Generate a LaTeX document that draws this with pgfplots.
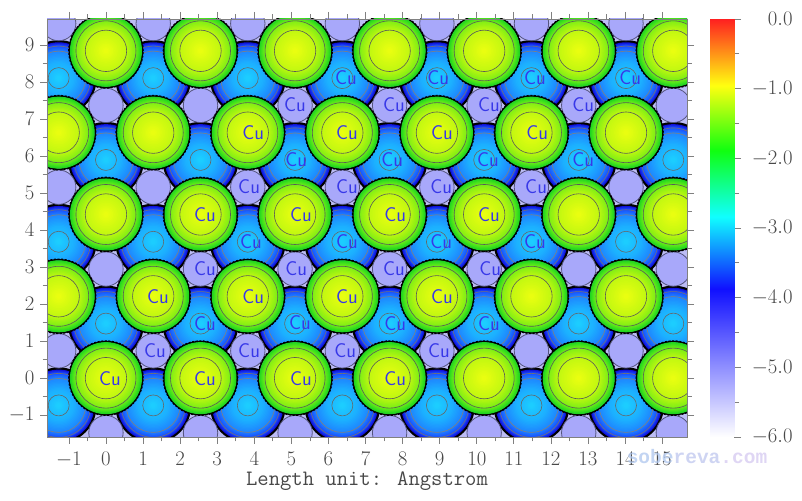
\documentclass[border=0pt]{standalone}
\usepackage{fontspec}
\usepackage{pgfplots}
\usepackage{pgfplotstable}
\pgfplotsset{compat=1.18}
\newfontfamily\wmfont{Liberation Mono}[Scale=1]

\definecolor{lav}{HTML}{BCBCF6}
\definecolor{pur}{HTML}{A8A8FA}
\definecolor{axgray}{HTML}{808080}
\definecolor{txtgray}{HTML}{484848}
\definecolor{cublue}{HTML}{3838E8}
\definecolor{b0}{HTML}{1010D8}
\definecolor{b1}{HTML}{1848FF}
\definecolor{b2}{HTML}{1E88FF}
\definecolor{b3}{HTML}{1CB0FF}
\definecolor{b4}{HTML}{1CD0FF}
\definecolor{g0}{HTML}{20D420}
\definecolor{g1}{HTML}{48E41C}
\definecolor{g2}{HTML}{88F014}
\definecolor{g3}{HTML}{C4F810}
\definecolor{g4}{HTML}{ECFF10}

% filled disc without outline
\pgfdeclareplotmark{disc}{\pgfpathcircle{\pgfpointorigin}{\pgfplotmarksize}\pgfusepathqfill}

% top layer atoms, positions in angstrom
\pgfplotstableread{
x y
-1.275 -2.21
1.275 -2.21
3.825 -2.21
6.375 -2.21
8.925 -2.21
11.475 -2.21
14.025 -2.21
16.575 -2.21
-2.55 0
0 0
2.55 0
5.1 0
7.65 0
10.2 0
12.75 0
15.3 0
17.85 0
-1.275 2.21
1.275 2.21
3.825 2.21
6.375 2.21
8.925 2.21
11.475 2.21
14.025 2.21
16.575 2.21
-2.55 4.42
0 4.42
2.55 4.42
5.1 4.42
7.65 4.42
10.2 4.42
12.75 4.42
15.3 4.42
17.85 4.42
-1.275 6.63
1.275 6.63
3.825 6.63
6.375 6.63
8.925 6.63
11.475 6.63
14.025 6.63
16.575 6.63
-2.55 8.84
0 8.84
2.55 8.84
5.1 8.84
7.65 8.84
10.2 8.84
12.75 8.84
15.3 8.84
17.85 8.84
}\bigatoms

% second layer
\pgfplotstableread{
x y
-1.275 -0.737
1.275 -0.737
3.825 -0.737
6.375 -0.737
8.925 -0.737
11.475 -0.737
14.025 -0.737
16.575 -0.737
-2.55 1.473
0 1.473
2.55 1.473
5.1 1.473
7.65 1.473
10.2 1.473
12.75 1.473
15.3 1.473
17.85 1.473
-1.275 3.683
1.275 3.683
3.825 3.683
6.375 3.683
8.925 3.683
11.475 3.683
14.025 3.683
16.575 3.683
-2.55 5.893
0 5.893
2.55 5.893
5.1 5.893
7.65 5.893
10.2 5.893
12.75 5.893
15.3 5.893
17.85 5.893
-1.275 8.103
1.275 8.103
3.825 8.103
6.375 8.103
8.925 8.103
11.475 8.103
14.025 8.103
16.575 8.103
-2.55 10.313
0 10.313
2.55 10.313
5.1 10.313
7.65 10.313
10.2 10.313
12.75 10.313
15.3 10.313
17.85 10.313
}\midatoms

% third layer
\pgfplotstableread{
x y
-2.55 -1.473
0 -1.473
2.55 -1.473
5.1 -1.473
7.65 -1.473
10.2 -1.473
12.75 -1.473
15.3 -1.473
-1.275 0.737
1.275 0.737
3.825 0.737
6.375 0.737
8.925 0.737
11.475 0.737
14.025 0.737
16.575 0.737
-2.55 2.947
0 2.947
2.55 2.947
5.1 2.947
7.65 2.947
10.2 2.947
12.75 2.947
15.3 2.947
-1.275 5.157
1.275 5.157
3.825 5.157
6.375 5.157
8.925 5.157
11.475 5.157
14.025 5.157
16.575 5.157
-2.55 7.367
0 7.367
2.55 7.367
5.1 7.367
7.65 7.367
10.2 7.367
12.75 7.367
15.3 7.367
-1.275 9.577
1.275 9.577
3.825 9.577
6.375 9.577
8.925 9.577
11.475 9.577
14.025 9.577
16.575 9.577
}\lowatoms

% atom labels
\pgfplotstableread{
x y
0.11 0
2.67 0
5.26 0
7.80 0
1.40 2.20
3.97 2.20
6.50 2.20
9.06 2.20
2.67 4.42
5.26 4.42
7.80 4.42
10.33 4.42
3.97 6.63
6.50 6.63
9.06 6.63
11.63 6.63
2.67 1.47
5.23 1.50
7.80 1.47
10.33 1.47
3.91 3.69
6.50 3.69
9.04 3.69
11.57 3.69
5.13 5.90
7.72 5.90
10.30 5.90
12.87 5.90
6.47 8.11
8.96 8.11
11.57 8.11
14.14 8.11
1.32 0.75
3.86 0.75
6.45 0.75
8.98 0.75
2.67 2.96
5.13 2.96
7.77 2.96
10.36 2.96
3.86 5.17
6.50 5.17
9.04 5.17
11.60 5.17
5.10 7.38
7.77 7.38
10.33 7.38
12.87 7.38
}\culabels

% stack of discs from radius #2 down to #3, colour #4 to #5
\newcommand{\ramp}[6]{%
  \foreach \i in {1,...,#6}{%
    \pgfmathsetmacro\rr{#2+(#3-(#2))*(\i-1)/#6}%
    \pgfmathsetmacro\pp{100*(\i-1)/#6}%
    \edef\tmp{\noexpand\addplot[only marks,mark=disc,mark size=\rr,
      mark options={fill=#5!\pp!#4}] table {\noexpand#1};}%
    \tmp
  }}
\newcommand{\ring}[4]{%
  \addplot[only marks,mark=o,mark size=#2,
    mark options={draw=#3,fill=none,line width=#4}] table {#1};}

\begin{document}
\begin{tikzpicture}[x=1pt,y=1pt]
\path[use as bounding box] (0,0) rectangle (802,500);
\begin{axis}[
    at={(47pt,63pt)},anchor=south west,
    scale only axis,width=640pt,height=418pt,
    xmin=-1.59,xmax=15.67,ymin=-1.59,ymax=9.70,
    xtick={-1,0,...,15},ytick={-1,0,...,9},
    minor tick num=1,
    tick align=outside,
    major tick length=7pt,minor tick length=4.5pt,
    tick style={axgray,line width=.7pt},
    axis line style={axgray,line width=.8pt},
    axis on top,
    clip marker paths=true,
    axis background/.style={fill=lav},
    tick label style={font=\fontsize{20}{20}\selectfont,text=txtgray},
    xticklabel shift=5pt,
    yticklabel shift=2pt,
    xlabel={Length unit: Angstrom},
    xlabel style={font=\ttfamily\fontsize{22}{22}\selectfont,text=txtgray,yshift=2.5pt},
]
% second layer
\ramp{\midatoms}{38}{35.8}{black}{black}{1}
\ramp{\midatoms}{35.8}{33}{b0}{b1}{3}
\ramp{\midatoms}{33}{27}{b1}{b2}{5}
\ramp{\midatoms}{27}{16}{b2}{b3}{8}
\ramp{\midatoms}{16}{1}{b3}{b4}{10}
\ring{\midatoms}{32}{black!55}{.6pt}
\ring{\midatoms}{27}{black!50}{.6pt}
\ring{\midatoms}{10.5}{black!60}{.6pt}
% third layer
\ramp{\lowatoms}{17.2}{1}{pur}{pur}{1}
\ring{\lowatoms}{17.2}{black!50!pur}{.8pt}
% top layer
\ring{\bigatoms}{36.5}{black}{1.6pt}
\ramp{\bigatoms}{36}{33}{g0}{g1}{3}
\ramp{\bigatoms}{33}{29}{g1}{g2}{4}
\ramp{\bigatoms}{29}{20}{g2}{g3}{7}
\ramp{\bigatoms}{20}{1}{g3}{g4}{12}
\ring{\bigatoms}{30}{black!65}{.6pt}
\ring{\bigatoms}{20.7}{black!65}{.6pt}
\addplot[black,only marks,mark=o,mark size=37.2,
  mark options={draw=black,fill=none,line width=1.2pt,dash pattern=on 2pt off 1.6pt}] table {\bigatoms};
% labels
\addplot[only marks,mark=none,nodes near coords={Cu},
  nodes near coords style={anchor=center,inner sep=0pt,text=cublue,
    font=\sffamily\fontsize{20}{20}\selectfont}] table {\culabels};
\end{axis}

% colour bar
\begin{axis}[
    at={(710pt,63pt)},anchor=south west,
    scale only axis,width=24pt,height=418pt,
    xmin=0,xmax=1,ymin=-6,ymax=0,
    axis x line=none,
    axis y line*=right,
    ytick={-6,-5,...,0},
    minor y tick num=1,
    tick align=outside,
    major tick length=7pt,minor tick length=5pt,
    tick style={axgray,line width=.7pt},
    axis line style={axgray,line width=.8pt,-},
    view={0}{90},
    colormap={bar}{rgb255(0)=(255,255,255) rgb255(213)=(16,16,255)
      rgb255(316)=(16,255,255) rgb255(411)=(16,255,16)
      rgb255(505)=(255,255,16) rgb255(600)=(255,32,32)},
    y tick label style={font=\fontsize{20}{20}\selectfont,text=txtgray,
      text width=48pt,align=right},
    yticklabel style={/pgf/number format/fixed,/pgf/number format/fixed zerofill,
      /pgf/number format/precision=1},
]
\addplot[surf,shader=interp,mesh/cols=2,point meta=y] table {
x y
0 -6
1 -6
0 -5
1 -5
0 -4
1 -4
0 -3
1 -3
0 -2
1 -2
0 -1
1 -1
0 0
1 0
};
\end{axis}
\node[font=\wmfont\bfseries\fontsize{19.5}{20}\selectfont,anchor=center,inner sep=0pt,opacity=.75] at (697,43)
  {\textcolor[HTML]{AEC6EE}{sobe}\textcolor[HTML]{BEC6EE}{reva}\textcolor[HTML]{D4C8F0}{.com}};
\end{tikzpicture}
\end{document}
